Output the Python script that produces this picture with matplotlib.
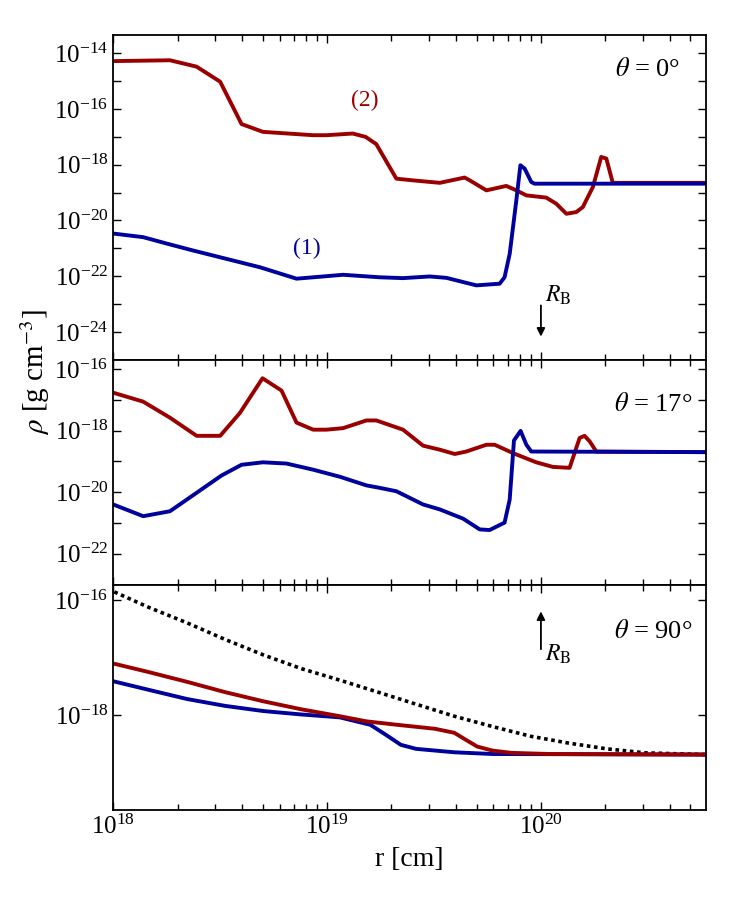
import matplotlib
matplotlib.use("Agg")
import matplotlib.pyplot as plt
from matplotlib.ticker import FixedLocator, NullFormatter, LogFormatterMathtext, LogLocator
import numpy as np

plt.rcParams["font.family"] = ["Liberation Serif", "DejaVu Serif"]
plt.rcParams["mathtext.fontset"] = "stix"

BLUE = "#00009c"
RED = "#9b0000"

# theta = 0 deg, log10 r [cm] and log10 rho [g cm^-3]
p1_red_logr = [18.0, 18.265, 18.39, 18.5, 18.6, 18.70, 18.935, 18.997, 19.12, 19.18,
               19.23, 19.324, 19.40, 19.527, 19.643, 19.667, 19.745, 19.838, 19.885,
               19.932, 20.025, 20.072, 20.119, 20.165, 20.196, 20.243, 20.282, 20.306,
               20.336, 20.77]
p1_red_logrho = [-14.28, -14.25, -14.48, -15.02, -16.54, -16.82, -16.94, -16.94, -16.88, -17.0,
                 -17.26, -18.50, -18.56, -18.65, -18.46, -18.56, -18.92, -18.76, -18.92,
                 -19.10, -19.18, -19.40, -19.76, -19.70, -19.52, -18.80, -17.72, -17.78,
                 -18.65, -18.65]
p1_blue_logr = [18.0, 18.14, 18.25, 18.374, 18.686, 18.857, 18.935, 19.075, 19.246, 19.355,
                19.48, 19.558, 19.698, 19.807, 19.83, 19.854, 19.885, 19.904, 19.924,
                19.955, 19.97, 20.77]
p1_blue_logrho = [-20.47, -20.60, -20.83, -21.08, -21.68, -22.09, -22.04, -21.95, -22.04, -22.07,
                  -22.01, -22.06, -22.33, -22.27, -22.04, -21.2, -19.28, -18.02, -18.14,
                  -18.62, -18.68, -18.68]

# theta = 17 deg
p2_red_logr = [18.0, 18.14, 18.265, 18.39, 18.5, 18.592, 18.698, 18.787, 18.857, 18.935,
               18.997, 19.075, 19.184, 19.23, 19.355, 19.449, 19.527, 19.597, 19.651,
               19.745, 19.784, 19.869, 19.978, 20.056, 20.134, 20.181, 20.204, 20.228,
               20.259, 20.77]
p2_red_logrho = [-16.77, -17.06, -17.58, -18.17, -18.17, -17.43, -16.30, -16.70, -17.74, -17.97,
                 -17.97, -17.92, -17.67, -17.67, -17.97, -18.49, -18.62, -18.76, -18.68,
                 -18.46, -18.46, -18.73, -19.03, -19.18, -19.21, -18.24, -18.17, -18.35,
                 -18.68, -18.70]
p2_blue_logr = [18.0, 18.14, 18.265, 18.39, 18.506, 18.6, 18.70, 18.81, 18.935, 19.06,
                19.184, 19.246, 19.324, 19.449, 19.527, 19.636, 19.714, 19.76, 19.83,
                19.854, 19.874, 19.905, 19.932, 19.955, 20.77]
p2_blue_logrho = [-20.40, -20.78, -20.62, -20.02, -19.46, -19.11, -19.03, -19.07, -19.27, -19.50,
                  -19.78, -19.86, -19.97, -20.40, -20.56, -20.86, -21.21, -21.23, -20.99,
                  -20.24, -18.32, -18.01, -18.46, -18.68, -18.70]

# theta = 90 deg
p3_dot_logr = [18.005, 18.166, 18.345, 18.523, 18.702, 18.88, 19.059, 19.238, 19.416,
               19.595, 19.773, 19.952, 20.13, 20.309, 20.488, 20.77]
p3_dot_logrho = [-15.85, -16.12, -16.39, -16.68, -16.95, -17.19, -17.39, -17.60, -17.81,
                 -18.02, -18.20, -18.37, -18.49, -18.59, -18.66, -18.69]
p3_red_logr = [18.0, 18.166, 18.345, 18.523, 18.702, 18.88, 19.059, 19.184, 19.327, 19.505,
               19.595, 19.648, 19.702, 19.773, 19.862, 20.041, 20.77]
p3_red_logrho = [-17.10, -17.25, -17.42, -17.60, -17.76, -17.90, -18.02, -18.11, -18.17, -18.24,
                 -18.31, -18.43, -18.55, -18.62, -18.66, -18.68, -18.69]
p3_blue_logr = [18.0, 18.166, 18.345, 18.523, 18.702, 18.88, 19.059, 19.202, 19.273, 19.345,
                19.416, 19.595, 19.773, 20.77]
p3_blue_logrho = [-17.41, -17.56, -17.72, -17.84, -17.93, -17.99, -18.04, -18.17, -18.34, -18.52,
                  -18.59, -18.65, -18.68, -18.69]

panel_titles = [r"$\theta$ = 0°", r"$\theta$ = 17°", r"$\theta$ = 90°"]
ylims = [(1e-25, 4.5e-14), (1e-23, 2e-16), (2.2e-20, 1.9e-16)]
major_decades = [range(-24, -13, 2), range(-22, -15, 2), range(-18, -15, 2)]
minor_decades = [range(-25, -13, 2), range(-23, -15, 2), []]


def p(vals):
    return 10.0 ** np.asarray(vals)


fig = plt.figure(figsize=(7.5, 9), dpi=100)
gs = fig.add_gridspec(3, 1, height_ratios=[324.4, 224.6, 225.3], hspace=0,
                      left=0.151, right=0.941, top=0.961, bottom=0.1)
axes = [fig.add_subplot(gs[i]) for i in range(3)]

lw = 2.8
axes[0].plot(p(p1_red_logr), p(p1_red_logrho), color=RED, lw=lw)
axes[0].plot(p(p1_blue_logr), p(p1_blue_logrho), color=BLUE, lw=lw)
axes[1].plot(p(p2_red_logr), p(p2_red_logrho), color=RED, lw=lw)
axes[1].plot(p(p2_blue_logr), p(p2_blue_logrho), color=BLUE, lw=lw)
axes[2].plot(p(p3_dot_logr), p(p3_dot_logrho), color="black", lw=2.6, ls=(0, (1, 1)))
axes[2].plot(p(p3_blue_logr), p(p3_blue_logrho), color=BLUE, lw=lw)
axes[2].plot(p(p3_red_logr), p(p3_red_logrho), color=RED, lw=lw)

for i, ax in enumerate(axes):
    ax.set_xscale("log")
    ax.set_yscale("log")
    ax.set_xlim(1e18, 5.9e20)
    ax.set_ylim(*ylims[i])
    ax.yaxis.set_major_locator(FixedLocator([10.0 ** d for d in major_decades[i]]))
    ax.yaxis.set_major_formatter(LogFormatterMathtext())
    ax.yaxis.set_minor_locator(FixedLocator([10.0 ** d for d in minor_decades[i]]))
    ax.yaxis.set_minor_formatter(NullFormatter())
    ax.xaxis.set_major_locator(FixedLocator([1e18, 1e19, 1e20]))
    ax.xaxis.set_minor_locator(LogLocator(base=10, subs=np.arange(2, 10), numticks=20))
    ax.xaxis.set_minor_formatter(NullFormatter())
    ax.tick_params(which="both", direction="in", top=True, right=True, labelsize=18, width=1)
    ax.tick_params(which="major", length=6)
    ax.tick_params(which="minor", length=4)
    ax.tick_params(axis="y", which="minor", length=6)
    for s in ax.spines.values():
        s.set_linewidth(1.3)
    if i < 2:
        ax.tick_params(labelbottom=False)
    ty = [0.893, 0.80, 0.79][i]
    tx = [0.957, 0.978, 0.978][i]
    ax.text(tx, ty, panel_titles[i], transform=ax.transAxes, ha="right", va="center", fontsize=19)

axes[2].xaxis.set_major_formatter(LogFormatterMathtext())

# curve labels
axes[0].text(1.5e19, 10 ** -15.68, "(2)", color=RED, fontsize=17, ha="center", va="center")
axes[0].text(8.0e18, 10 ** -21.0, "(1)", color=BLUE, fontsize=17, ha="center", va="center")

# Bondi radius markers
arrow = dict(arrowstyle="-|>", color="black", lw=1.3, mutation_scale=12, shrinkA=0, shrinkB=0)
axes[0].annotate("", xy=(1e20, 10 ** -24.17), xytext=(1e20, 10 ** -23.05), arrowprops=arrow)
axes[0].text(1.04e20, 10 ** -22.7, r"$R_{\rm B}$", fontsize=17, ha="left", va="center")
axes[2].annotate("", xy=(1e20, 10 ** -16.19), xytext=(1e20, 10 ** -16.85), arrowprops=arrow)
axes[2].text(1.04e20, 10 ** -16.94, r"$R_{\rm B}$", fontsize=17, ha="left", va="center")

axes[2].set_xlabel("r [cm]", fontsize=20, labelpad=6)
fig.text(0.047, 0.587, r"$\rho$ [g cm$^{-3}$]", rotation=90, ha="center", va="center", fontsize=21)

fig.savefig("out.png", dpi=100)
